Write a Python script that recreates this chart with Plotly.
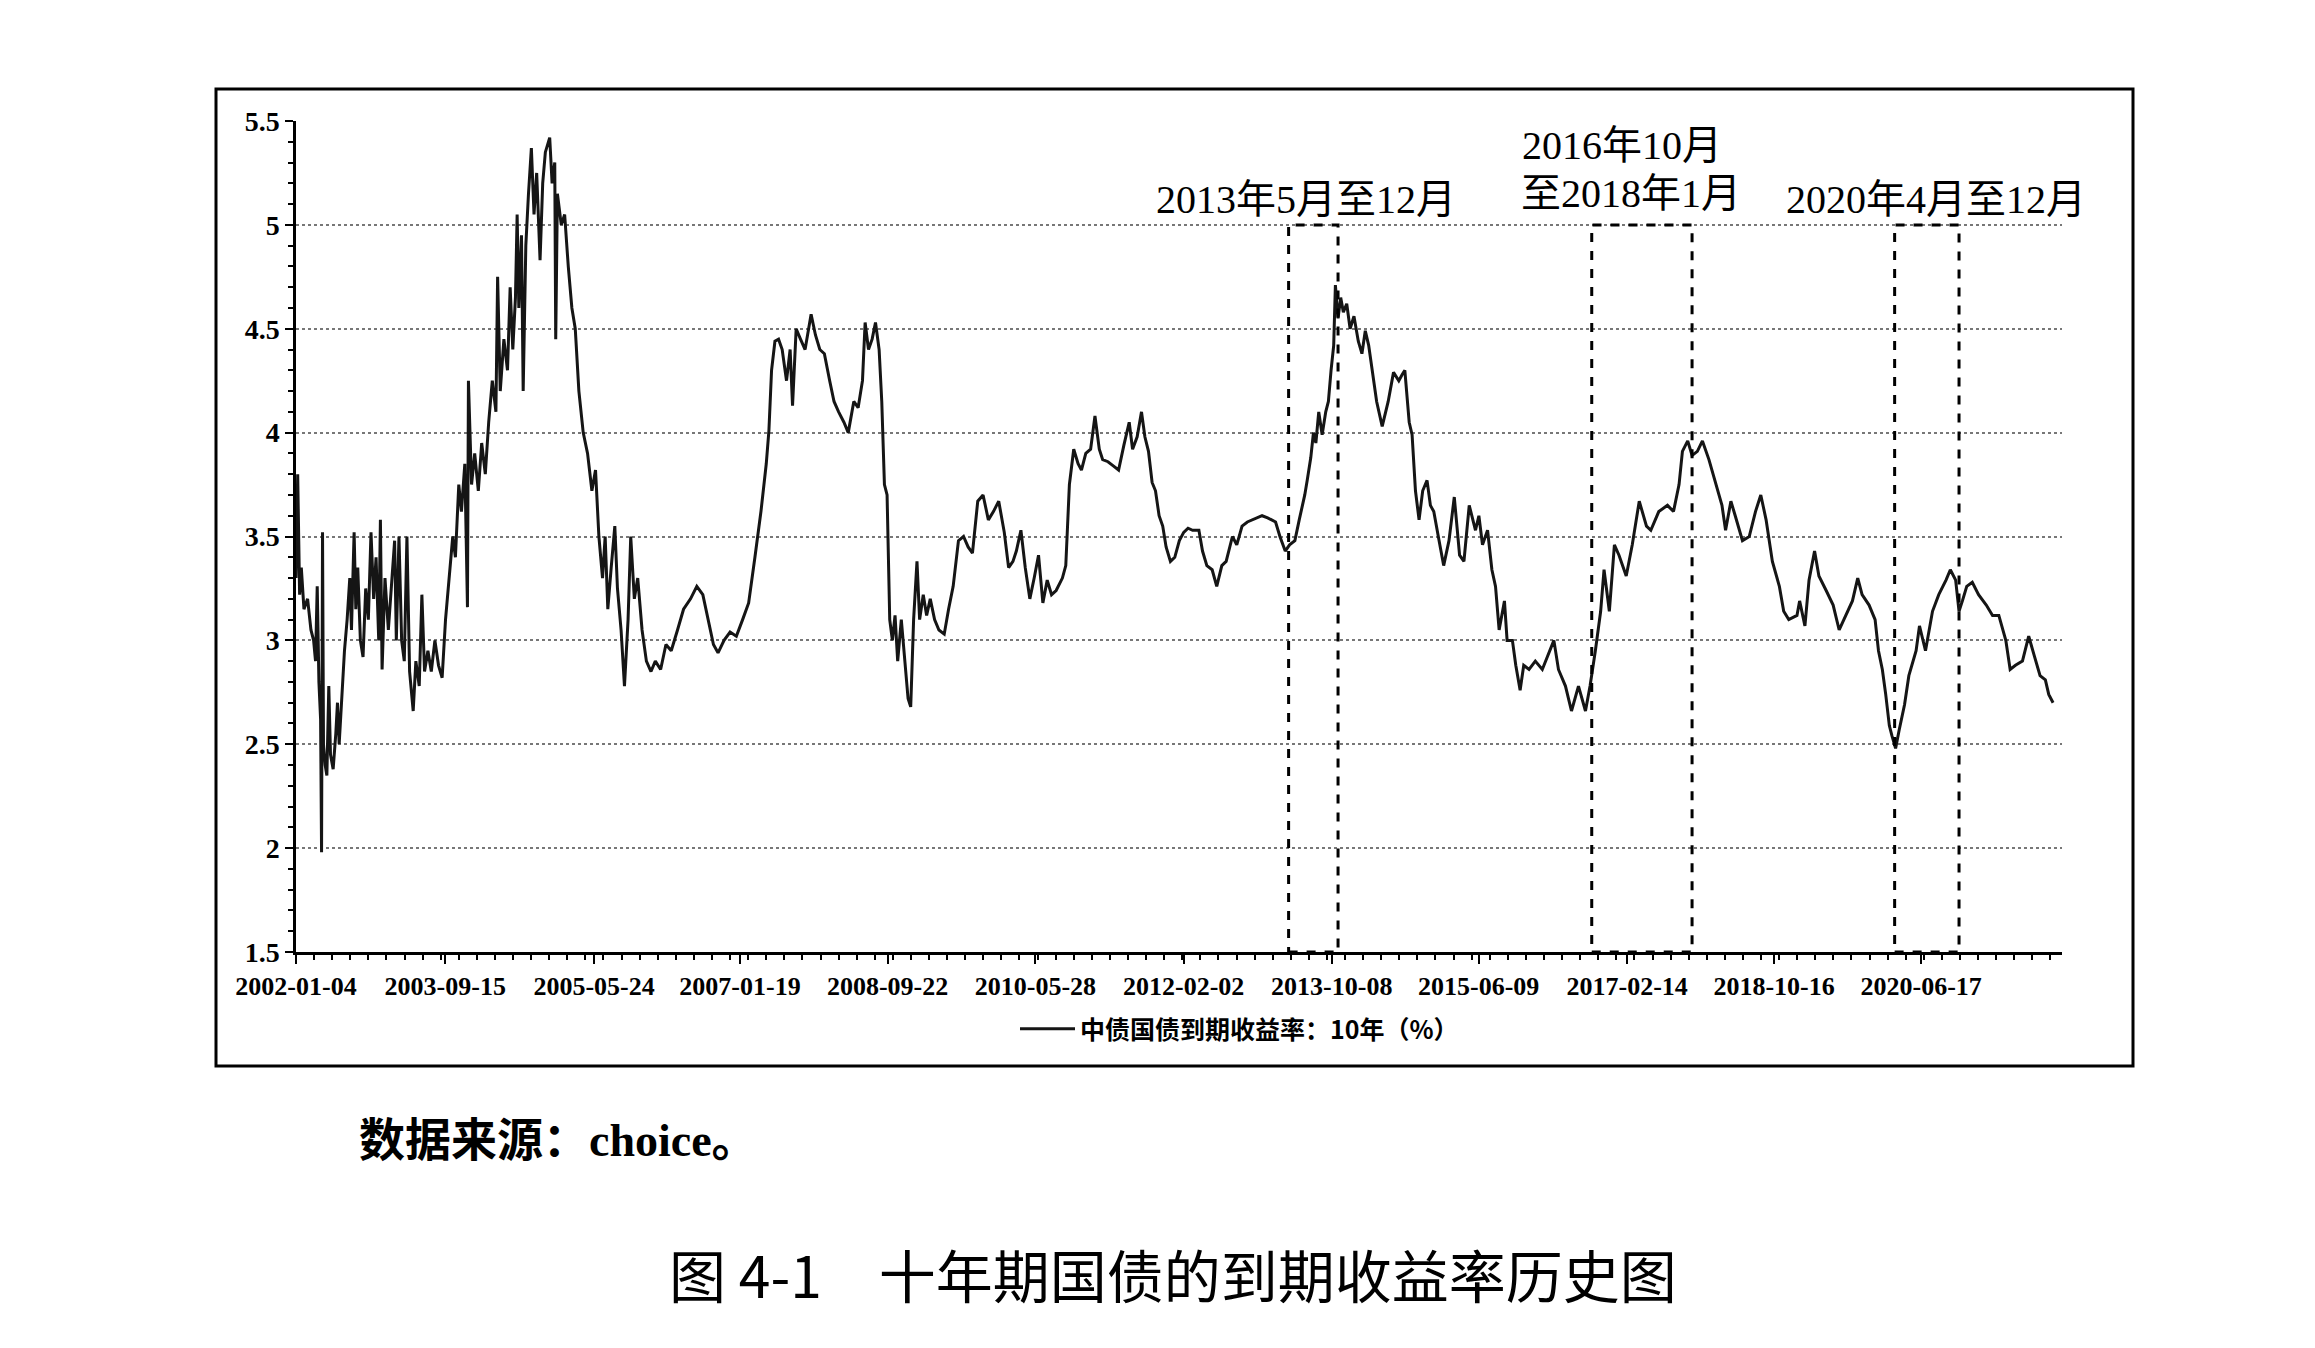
import plotly.graph_objects as go

# ---------------- data ----------------
dates = [
    "2002-01-04","2002-01-11","2002-01-19","2002-01-26","2002-02-06","2002-02-21","2002-03-07","2002-03-18",
    "2002-03-26","2002-04-02","2002-04-09","2002-04-16","2002-04-20","2002-04-24","2002-04-28","2002-05-05",
    "2002-05-12","2002-05-20","2002-05-27","2002-06-07","2002-06-18","2002-06-25","2002-07-02","2002-07-13",
    "2002-07-24","2002-08-04","2002-08-15","2002-08-22","2002-09-02","2002-09-09","2002-09-17","2002-09-28",
    "2002-10-09","2002-10-20","2002-10-31","2002-11-11","2002-11-22","2002-12-02","2002-12-13","2002-12-20",
    "2002-12-27","2003-01-08","2003-01-22","2003-02-06","2003-02-17","2003-02-24","2003-03-07","2003-03-18",
    "2003-03-29","2003-04-09","2003-04-20","2003-05-05","2003-05-16","2003-05-30","2003-06-10","2003-06-21",
    "2003-07-05","2003-07-19","2003-08-03","2003-08-18","2003-09-02","2003-09-16","2003-10-01","2003-10-16",
    "2003-10-27","2003-11-10","2003-11-21","2003-12-05","2003-12-16","2003-12-20","2004-01-02","2004-01-15",
    "2004-01-30","2004-02-13","2004-02-28","2004-03-13","2004-03-28","2004-04-12","2004-04-19","2004-04-30",
    "2004-05-15","2004-05-30","2004-06-10","2004-06-21","2004-07-02","2004-07-09","2004-07-16","2004-07-27",
    "2004-08-03","2004-08-14","2004-08-25","2004-09-06","2004-09-17","2004-09-28","2004-10-12","2004-10-23",
    "2004-11-03","2004-11-21","2004-12-01","2004-12-12","2004-12-16","2004-12-23","2005-01-08","2005-01-22",
    "2005-02-06","2005-02-21","2005-03-07","2005-03-22","2005-04-09","2005-04-27","2005-05-15","2005-05-30",
    "2005-06-13","2005-06-28","2005-07-09","2005-07-20","2005-08-03","2005-08-18","2005-08-29","2005-09-13",
    "2005-09-27","2005-10-12","2005-10-23","2005-11-07","2005-11-21","2005-12-09","2005-12-27","2006-01-15",
    "2006-02-02","2006-02-24","2006-03-18","2006-04-09","2006-05-05","2006-05-30","2006-06-28","2006-07-24",
    "2006-08-18","2006-09-09","2006-10-01","2006-10-20","2006-11-14","2006-12-09","2007-01-04","2007-01-30",
    "2007-02-24","2007-03-22","2007-04-16","2007-05-08","2007-05-19","2007-05-30","2007-06-13","2007-06-28",
    "2007-07-13","2007-07-31","2007-08-15","2007-08-25","2007-09-09","2007-09-27","2007-10-16","2007-11-10",
    "2007-11-28","2007-12-16","2008-01-04","2008-01-26","2008-02-13","2008-03-03","2008-03-25","2008-04-12",
    "2008-05-05","2008-05-23","2008-06-10","2008-06-21","2008-07-05","2008-07-20","2008-08-03","2008-08-18",
    "2008-08-29","2008-09-09","2008-09-20","2008-10-01","2008-10-12","2008-10-23","2008-11-03","2008-11-18",
    "2008-12-02","2008-12-16","2008-12-27","2009-01-08","2009-01-22","2009-02-02","2009-02-17","2009-03-03",
    "2009-03-18","2009-04-05","2009-04-23","2009-05-15","2009-06-02","2009-06-21","2009-07-13","2009-08-03",
    "2009-08-22","2009-09-09","2009-10-01","2009-10-23","2009-11-14","2009-12-05","2009-12-27","2010-01-19",
    "2010-02-06","2010-02-24","2010-03-10","2010-03-29","2010-04-16","2010-05-05","2010-05-23","2010-06-10",
    "2010-06-28","2010-07-16","2010-08-03","2010-08-22","2010-09-17","2010-10-01","2010-10-16","2010-11-03",
    "2010-11-21","2010-12-05","2010-12-23","2011-01-12","2011-01-30","2011-02-17","2011-03-03","2011-03-25",
    "2011-04-16","2011-05-08","2011-05-30","2011-06-21","2011-07-05","2011-07-24","2011-08-11","2011-08-25",
    "2011-09-09","2011-09-24","2011-10-08","2011-10-23","2011-11-07","2011-11-21","2011-12-09","2011-12-27",
    "2012-01-15","2012-02-02","2012-02-20","2012-03-10","2012-04-05","2012-04-20","2012-05-08","2012-05-30",
    "2012-06-18","2012-07-09","2012-07-27","2012-08-22","2012-09-09","2012-10-01","2012-10-23","2012-11-10",
    "2012-12-02","2012-12-23","2013-01-15","2013-02-02","2013-02-17","2013-03-07","2013-03-29","2013-04-16",
    "2013-05-08","2013-05-26","2013-06-18","2013-06-28","2013-07-13","2013-07-24","2013-08-03","2013-08-15",
    "2013-08-29","2013-09-13","2013-09-24","2013-10-05","2013-10-16","2013-10-23","2013-11-03","2013-11-14",
    "2013-11-25","2013-12-09","2013-12-23","2014-01-08","2014-01-26","2014-02-10","2014-02-24","2014-03-10",
    "2014-03-25","2014-04-12","2014-05-05","2014-05-20","2014-05-30","2014-06-21","2014-07-13","2014-07-27",
    "2014-08-07","2014-08-25","2014-09-06","2014-09-20","2014-10-05","2014-10-20","2014-11-07","2014-11-21",
    "2014-12-05","2014-12-27","2015-01-15","2015-02-06","2015-02-28","2015-03-22","2015-04-09","2015-05-01",
    "2015-05-15","2015-05-27","2015-06-10","2015-06-25","2015-07-16","2015-08-03","2015-08-18","2015-09-02",
    "2015-09-24","2015-10-05","2015-10-27","2015-11-10","2015-11-28","2015-12-13","2016-01-04","2016-01-30",
    "2016-02-28","2016-03-22","2016-04-16","2016-05-05","2016-06-03","2016-06-28","2016-07-27","2016-08-25",
    "2016-09-13","2016-10-05","2016-10-27","2016-11-10","2016-12-02","2016-12-23","2017-01-11","2017-02-10",
    "2017-03-07","2017-04-05","2017-05-05","2017-05-23","2017-06-25","2017-07-31","2017-08-25","2017-09-17",
    "2017-10-01","2017-10-23","2017-11-10","2017-12-02","2017-12-23","2018-01-19","2018-02-17","2018-03-14",
    "2018-03-29","2018-04-20","2018-05-08","2018-06-07","2018-07-05","2018-07-31","2018-08-22","2018-09-13",
    "2018-10-09","2018-11-07","2018-11-25","2018-12-16","2019-01-19","2019-01-30","2019-02-21","2019-03-10",
    "2019-04-02","2019-04-20","2019-05-20","2019-06-18","2019-07-13","2019-08-11","2019-09-06","2019-09-28",
    "2019-10-16","2019-11-14","2019-12-09","2019-12-23","2020-01-08","2020-01-22","2020-02-06","2020-02-17",
    "2020-03-03","2020-03-18","2020-04-09","2020-04-27","2020-05-27","2020-06-10","2020-07-05","2020-08-03",
    "2020-08-29","2020-09-28","2020-10-16","2020-11-07","2020-11-21","2020-12-05","2020-12-23","2021-01-15",
    "2021-02-10","2021-03-14","2021-04-09","2021-05-05","2021-06-03","2021-06-21","2021-07-13","2021-08-11",
    "2021-09-06","2021-09-28","2021-10-23","2021-11-14","2021-11-28","2021-12-16",
]
yields = [
    3.30,3.80,3.22,3.35,3.15,3.20,3.05,3.00,
    2.90,3.26,2.80,2.62,1.98,3.52,2.50,2.40,
    2.35,2.78,2.45,2.38,2.55,2.70,2.50,2.75,
    2.95,3.10,3.30,3.05,3.52,3.15,3.35,3.00,
    2.92,3.25,3.10,3.52,3.20,3.40,3.00,3.58,
    2.86,3.30,3.05,3.30,3.48,3.00,3.50,3.00,
    2.90,3.50,2.85,2.66,2.90,2.78,3.22,2.85,
    2.95,2.85,3.00,2.88,2.82,3.10,3.30,3.50,
    3.40,3.75,3.62,3.85,3.16,4.25,3.75,3.90,
    3.72,3.95,3.80,4.05,4.25,4.10,4.75,4.20,
    4.45,4.30,4.70,4.40,4.65,5.05,4.60,4.95,
    4.20,4.90,5.15,5.37,5.05,5.25,4.83,5.20,
    5.35,5.42,5.20,5.30,4.45,5.15,5.00,5.05,
    4.80,4.60,4.50,4.20,4.00,3.90,3.72,3.82,
    3.50,3.30,3.50,3.15,3.35,3.55,3.25,3.05,
    2.78,3.10,3.50,3.20,3.30,3.05,2.90,2.85,
    2.90,2.86,2.98,2.95,3.05,3.15,3.20,3.26,
    3.22,3.10,2.98,2.94,3.00,3.04,3.02,3.10,
    3.18,3.40,3.62,3.85,4.01,4.30,4.44,4.45,
    4.40,4.25,4.40,4.13,4.50,4.45,4.40,4.57,
    4.47,4.40,4.38,4.25,4.15,4.10,4.05,4.00,
    4.15,4.12,4.25,4.53,4.40,4.45,4.53,4.40,
    4.15,3.75,3.70,3.10,3.00,3.12,2.90,3.10,
    2.92,2.72,2.68,3.10,3.38,3.10,3.22,3.12,
    3.20,3.10,3.05,3.03,3.15,3.26,3.48,3.50,
    3.45,3.42,3.67,3.70,3.58,3.62,3.67,3.52,
    3.35,3.38,3.43,3.53,3.35,3.20,3.30,3.41,
    3.18,3.29,3.22,3.24,3.30,3.36,3.75,3.92,
    3.85,3.82,3.90,3.92,4.08,3.92,3.87,3.86,
    3.84,3.82,3.94,4.05,3.92,3.98,4.10,3.98,
    3.91,3.76,3.72,3.60,3.55,3.45,3.38,3.40,
    3.48,3.52,3.54,3.53,3.53,3.43,3.36,3.34,
    3.26,3.36,3.38,3.50,3.46,3.55,3.57,3.58,
    3.59,3.60,3.59,3.58,3.57,3.50,3.43,3.46,
    3.48,3.58,3.70,3.77,3.88,4.00,3.95,4.10,
    3.99,4.10,4.15,4.30,4.42,4.71,4.55,4.65,
    4.58,4.62,4.50,4.56,4.44,4.38,4.49,4.42,
    4.30,4.15,4.03,4.10,4.15,4.29,4.25,4.28,
    4.30,4.05,3.99,3.72,3.58,3.72,3.77,3.65,
    3.62,3.48,3.36,3.48,3.69,3.41,3.38,3.65,
    3.58,3.53,3.60,3.46,3.53,3.34,3.26,3.05,
    3.19,3.00,3.00,2.88,2.76,2.88,2.86,2.90,
    2.86,2.93,3.00,2.86,2.78,2.66,2.78,2.66,
    2.78,2.95,3.14,3.34,3.14,3.46,3.41,3.31,
    3.46,3.67,3.55,3.53,3.62,3.65,3.62,3.75,
    3.91,3.96,3.89,3.91,3.96,3.87,3.75,3.65,
    3.53,3.67,3.60,3.48,3.50,3.62,3.70,3.58,
    3.38,3.26,3.14,3.10,3.12,3.19,3.07,3.29,
    3.43,3.31,3.24,3.17,3.05,3.12,3.19,3.30,
    3.22,3.17,3.10,2.95,2.86,2.74,2.59,2.54,
    2.48,2.57,2.69,2.83,2.95,3.07,2.95,3.14,
    3.22,3.29,3.34,3.29,3.14,3.19,3.26,3.28,
    3.22,3.17,3.12,3.12,3.00,2.86,2.88,2.90,
    3.02,2.93,2.83,2.81,2.74,2.70,
]

series_name = "中债国债到期收益率：10年（%）"
tick_dates = ["2002-01-04", "2003-09-15", "2005-05-24", "2007-01-19", "2008-09-22", "2010-05-28",
              "2012-02-02", "2013-10-08", "2015-06-09", "2017-02-14", "2018-10-16", "2020-06-17"]
y_ticks = [1.5, 2, 2.5, 3, 3.5, 4, 4.5, 5, 5.5]
y_tick_text = ["1.5", "2", "2.5", "3", "3.5", "4", "4.5", "5", "5.5"]

window_starts = ["2013-04-12", "2016-09-20", "2020-02-28"]
window_ends = ["2013-11-03", "2017-11-10", "2020-11-21"]
window_top = 5.0
window_labels = ["2013年5月至12月", "2016年10月", "至2018年1月", "2020年4月至12月"]

source_text = "数据来源：choice。"
caption_text = "图 4-1\u3000十年期国债的到期收益率历史图"

# ---------------- figure ----------------
W, H = 2315, 1348
L, R, T, B = 296, 2062, 121, 952   # plot area in pixels
pw, ph = R - L, B - T

def px(x):
    return (x - L) / pw

def py(y):
    return (B - y) / ph

SERIF = "Liberation Serif, Times New Roman, Noto Sans CJK SC, serif"
CJK = "Noto Sans CJK SC, sans-serif"

fig = go.Figure()
fig.add_trace(go.Scatter(
    x=dates, y=yields, mode="lines", name=series_name,
    line=dict(color="#151515", width=3),
))

shapes = []
for s, e in zip(window_starts, window_ends):
    shapes.append(dict(type="rect", xref="x", yref="y", x0=s, x1=e, y0=1.5, y1=window_top,
                       line=dict(color="black", width=3, dash="dash"), fillcolor="rgba(0,0,0,0)"))
# outer frame
shapes.append(dict(type="rect", xref="paper", yref="paper",
                   x0=px(216), x1=px(2133), y0=py(1066), y1=py(89),
                   line=dict(color="black", width=3)))

label_pos = [(1306, 199), (1622, 146), (1631, 193), (1936, 199)]
annotations = []
for txt, (ax, ay) in zip(window_labels, label_pos):
    annotations.append(dict(text=txt, xref="paper", yref="paper", x=px(ax), y=py(ay),
                            xanchor="center", yanchor="middle", showarrow=False,
                            font=dict(family=SERIF, size=40, color="black")))
annotations.append(dict(text=source_text, xref="paper", yref="paper", x=px(357), y=py(1140),
                        xanchor="left", yanchor="middle", showarrow=False,
                        font=dict(family=SERIF, size=46, color="black", weight="bold")))
annotations.append(dict(text=caption_text, xref="paper", yref="paper", x=px(1173), y=py(1273),
                        xanchor="center", yanchor="middle", showarrow=False,
                        font=dict(family=CJK, size=57, color="black")))

fig.update_layout(
    width=W, height=H, autosize=False,
    margin=dict(l=L, r=W - R, t=T, b=H - B, pad=0),
    paper_bgcolor="white", plot_bgcolor="white",
    showlegend=True,
    legend=dict(orientation="h", x=px(1015), xanchor="left", y=py(1029), yanchor="middle",
                font=dict(family=CJK, size=25, color="black", weight="bold"),
                bgcolor="rgba(0,0,0,0)", itemwidth=55),
    shapes=shapes, annotations=annotations,
)

fig.update_xaxes(
    type="date", range=["2002-01-04", "2022-01-22"],
    tickmode="array", tickvals=tick_dates, ticktext=tick_dates,
    showgrid=False, zeroline=False,
    showline=True, linecolor="black", linewidth=3,
    ticks="outside", ticklen=9, tickwidth=2, tickcolor="black",
    tickfont=dict(family=SERIF, size=26, color="black", weight="bold"),
    minor=dict(tick0="2002-01-04", dtick=75 * 86400000, ticks="outside", ticklen=5,
               tickwidth=2, tickcolor="black", showgrid=False),
)
fig.update_yaxes(
    range=[1.5, 5.5], tickmode="array", tickvals=y_ticks, ticktext=y_tick_text,
    showgrid=True, gridcolor="#777777", gridwidth=1.5, griddash="dot",
    zeroline=False, showline=True, linecolor="black", linewidth=2.5,
    ticks="outside", ticklen=8, tickwidth=2, tickcolor="black",
    tickfont=dict(family=SERIF, size=28, color="black", weight="bold"),
    minor=dict(dtick=0.1, tick0=1.5, ticks="outside", ticklen=5, tickwidth=1.5,
               tickcolor="black", showgrid=False),
)

fig.write_html("out.html")
